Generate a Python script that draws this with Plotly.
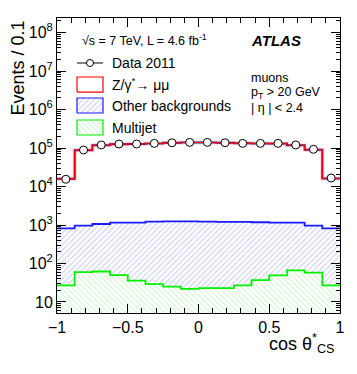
"""cos theta* (Collins-Soper) distribution for Z -> mumu, ATLAS style."""
import plotly.graph_objects as go

# bin edges of cos theta*_CS (16 bins of 0.125)
cos_edges = [-1.0, -0.875, -0.75, -0.625, -0.5, -0.375, -0.25, -0.125, 0.0,
             0.125, 0.25, 0.375, 0.5, 0.625, 0.75, 0.875, 1.0]

data_2011 = [15400, 88700, 120000, 127000, 127000, 132000, 137000, 140000,
             140000, 137000, 132000, 132000, 132000, 120000, 92500, 16600]
z_total = [15800, 88000, 118000, 126000, 127000, 131000, 136000, 139000,
           139000, 136000, 132000, 131000, 130000, 118000, 90000, 16200]
other_bkg = [820, 960, 1060, 1150, 1150, 1220, 1245, 1245,
             1220, 1200, 1200, 1180, 1150, 1150, 960, 820]
multijet = [27, 60, 62, 50, 36, 29, 25, 22,
            23, 23, 27, 37, 49, 66, 58, 27]

y_major = [10, 100, 1e3, 1e4, 1e5, 1e6, 1e7, 1e8]
y_major_text = ["10", "10<sup>2</sup>", "10<sup>3</sup>", "10<sup>4</sup>",
                "10<sup>5</sup>", "10<sup>6</sup>", "10<sup>7</sup>", "10<sup>8</sup>"]
x_major = [-1, -0.5, 0, 0.5, 1]
x_major_text = ["\u22121", "\u22120.5", "0", "0.5", "1"]

FONT = "Liberation Sans, Arial, sans-serif"
BLUE_HATCH = "#a4a4e0"
GREEN_HATCH = "#a8eca8"

centers = [(a + b) / 2 for a, b in zip(cos_edges[:-1], cos_edges[1:])]
width = cos_edges[1] - cos_edges[0]


def step(vals):
    return vals + [vals[-1]]


fig = go.Figure()

# hatched fills
fig.add_trace(go.Bar(x=centers, y=other_bkg, width=width,
                     marker=dict(color="white", line_width=0,
                                 pattern=dict(shape="/", fgcolor=BLUE_HATCH, bgcolor="white",
                                              size=4, solidity=0.3)),
                     showlegend=False))
fig.add_trace(go.Bar(x=centers, y=multijet, width=width,
                     marker=dict(color="white", line_width=0,
                                 pattern=dict(shape="\\", fgcolor=GREEN_HATCH, bgcolor="white",
                                              size=4, solidity=0.3)),
                     showlegend=False))

# step outlines
fig.add_trace(go.Scatter(x=cos_edges, y=step(other_bkg), mode="lines", line_shape="hv",
                         line=dict(color="#1a1aff", width=1.8), showlegend=False))
fig.add_trace(go.Scatter(x=cos_edges, y=step(multijet), mode="lines", line_shape="hv",
                         line=dict(color="#00f000", width=1.8), showlegend=False))
fig.add_trace(go.Scatter(x=cos_edges, y=step(z_total), mode="lines", line_shape="hv",
                         line=dict(color="rgba(255,130,130,0.35)", width=4), showlegend=False))
fig.add_trace(go.Scatter(x=cos_edges, y=step(z_total), mode="lines", line_shape="hv",
                         line=dict(color="#3a2a9a", width=2), showlegend=False))
fig.add_trace(go.Scatter(x=cos_edges, y=step(z_total), mode="lines", line_shape="hv",
                         line=dict(color="#ff0000", width=1.1), showlegend=False))

# data
fig.add_trace(go.Scatter(x=centers, y=data_2011, mode="markers",
                         marker=dict(symbol="circle", size=8, color="white",
                                     line=dict(color="black", width=1)),
                         showlegend=False))


# legend drawn on an overlay axis (plot-area fractions)
def box(x0, x1, y0, y1, **kw):
    fig.add_trace(go.Scatter(x=[x0, x1, x1, x0, x0], y=[y0, y0, y1, y1, y0],
                             xaxis="x2", yaxis="y2", mode="lines", fill="toself",
                             hoverinfo="skip", showlegend=False, **kw))


lx0, lx1 = 0.0707, 0.1625
fig.add_trace(go.Scatter(x=[lx0, lx1], y=[0.8475, 0.8475], xaxis="x2", yaxis="y2",
                         mode="lines", line=dict(color="black", width=1), showlegend=False))
fig.add_trace(go.Scatter(x=[(lx0 + lx1) / 2], y=[0.8475], xaxis="x2", yaxis="y2",
                         mode="markers", marker=dict(size=7, color="white",
                                                     line=dict(color="black", width=1)),
                         showlegend=False))
box(lx0, lx1, 0.749, 0.80, line=dict(color="#ff0000", width=1.2), fillcolor="white")
box(lx0, lx1, 0.678, 0.7288, line=dict(color="#1a1aff", width=1.2),
    fillcolor="white", fillpattern=dict(shape="/", fgcolor=BLUE_HATCH, bgcolor="white",
                                        size=4, solidity=0.3))
box(lx0, lx1, 0.6034, 0.6542, line=dict(color="#00f000", width=1.2),
    fillcolor="white", fillpattern=dict(shape="\\", fgcolor=GREEN_HATCH, bgcolor="white",
                                        size=4, solidity=0.3))

labels = [
    ("Data 2011", 0.8475),
    ("Z/\u03b3<sup>*</sup>\u2192 \u03bc\u03bc", 0.776),
    ("Other backgrounds", 0.7017),
    ("Multijet", 0.6271),
]
annotations = [dict(x=0.1873, y=yy, xref="paper", yref="paper", text=t, showarrow=False,
                    xanchor="left", yanchor="middle", font=dict(size=14, color="black"))
               for t, yy in labels]
annotations += [
    dict(x=0.081, y=0.9254, xref="paper", yref="paper", showarrow=False,
         text="\u221as = 7 TeV, L = 4.6 fb<sup>-1</sup>", xanchor="left", yanchor="middle",
         font=dict(size=12.5, color="black")),
    dict(x=0.68, y=0.9254, xref="paper", yref="paper", showarrow=False,
         text="<b><i>ATLAS</i></b>", xanchor="left", yanchor="middle",
         font=dict(size=15, color="black")),
    dict(x=0.68, y=0.797, xref="paper", yref="paper", showarrow=False, text="muons",
         xanchor="left", yanchor="middle", font=dict(size=12.5, color="black")),
    dict(x=0.68, y=0.745, xref="paper", yref="paper", showarrow=False,
         text="p<sub>T</sub> > 20 GeV", xanchor="left", yanchor="middle",
         font=dict(size=12.5, color="black")),
    dict(x=0.68, y=0.696, xref="paper", yref="paper", showarrow=False,
         text="| \u03b7 | < 2.4", xanchor="left", yanchor="middle",
         font=dict(size=12.5, color="black")),
    # axis titles
    dict(x=-0.138, y=1.0, xref="paper", yref="paper", showarrow=False, text="Events / 0.1",
         textangle=-90, xanchor="center", yanchor="top", font=dict(size=18, color="black")),
    dict(x=0.985, y=-0.105, xref="paper", yref="paper", showarrow=False,
         text="cos \u03b8<sup>*</sup><sub>CS</sub>", xanchor="right", yanchor="middle",
         font=dict(size=18, color="black")),
]

# the page body has an 8px margin, so the figure is sized/offset to compensate
fig.update_layout(
    width=349, height=366,
    margin=dict(l=49, r=17, t=10, b=61, autoexpand=False),
    paper_bgcolor="white", plot_bgcolor="white",
    barmode="overlay", bargap=0,
    font=dict(family=FONT, color="black"),
    showlegend=False,
    annotations=annotations,
    xaxis=dict(range=[-1, 1], tickvals=x_major, ticktext=x_major_text,
               ticks="inside", ticklen=9, tickcolor="black", tickwidth=1,
               minor=dict(dtick=0.1, ticks="inside", ticklen=5, tickcolor="black"),
               showline=True, linecolor="black", linewidth=1, mirror="allticks",
               showgrid=False, zeroline=False, tickfont=dict(size=16), automargin=False),
    yaxis=dict(type="log", range=[0.714, 8.377], tickvals=y_major, ticktext=y_major_text,
               ticks="inside", ticklen=9, tickcolor="black", tickwidth=1,
               minor=dict(tickvals=[k * 10 ** n for n in range(0, 9) for k in range(2, 10)],
                          ticks="inside", ticklen=4, tickcolor="black"),
               showline=True, linecolor="black", linewidth=1, mirror="allticks",
               showgrid=False, zeroline=False, tickfont=dict(size=16), automargin=False),
    xaxis2=dict(overlaying="x", range=[0, 1], visible=False),
    yaxis2=dict(overlaying="y", range=[0, 1], visible=False),
)

fig.write_html("out.html")
